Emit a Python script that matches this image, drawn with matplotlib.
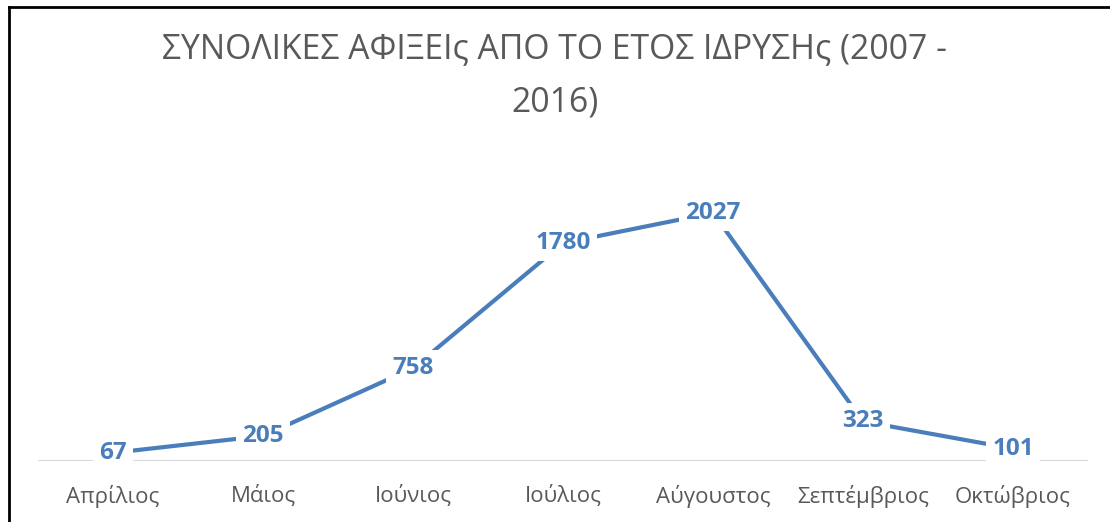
import matplotlib.pyplot as plt
from matplotlib.lines import Line2D

plt.rcParams['font.family'] = ['Open Sans', 'DejaVu Sans']

# data
months = ["Απρίλιος", "Μάιος", "Ιούνιος", "Ιούλιος", "Αύγουστος", "Σεπτέμβριος", "Οκτώβριος"]
arrivals = [67, 205, 758, 1780, 2027, 323, 101]
title = "ΣΥΝΟΛΙΚΕΣ ΑΦΙΞΕΙς ΑΠΟ ΤΟ ΕΤΟΣ ΙΔΡΥΣΗς (2007 -\n2016)"

blue = "#4a7ebb"
grey = "#595959"

fig = plt.figure(figsize=(11.1, 5.22), dpi=100)
ax = fig.add_axes([38/1110, 1 - 461/522, 1050/1110, (461 - 155)/522])

x = range(len(months))
ax.plot(x, arrivals, color=blue, lw=3, solid_capstyle="butt", zorder=2)
for xi, v in zip(x, arrivals):
    ax.text(xi, v, str(v), ha="center", va="center", fontsize=17.5, fontweight="bold",
            color=blue, zorder=3,
            bbox=dict(boxstyle="square,pad=0.25", fc="white", ec="none"))

ax.set_xlim(-0.5, len(months) - 0.5)
ax.set_ylim(0, 2500)
for s in ax.spines.values():
    s.set_visible(False)
ax.axhline(0, color="#d9d9d9", lw=1.5, zorder=1)
ax.set_yticks([])
ax.set_xticks(list(x))
ax.set_xticklabels(months, fontsize=16, color=grey)
ax.tick_params(axis="x", length=0, pad=17)

fig.text(0.5, 1 - 76/522, title, ha="center", va="center", fontsize=24.3,
         color=grey, linespacing=1.72)

# outer frame (left and top edges visible)
fig.add_artist(Line2D([8.5/1110, 8.5/1110], [0, 1 - 7/522], transform=fig.transFigure, color="black", lw=2))
fig.add_artist(Line2D([8.5/1110, 1], [1 - 7/522, 1 - 7/522], transform=fig.transFigure, color="black", lw=2))

fig.savefig("out.png", dpi=100)
